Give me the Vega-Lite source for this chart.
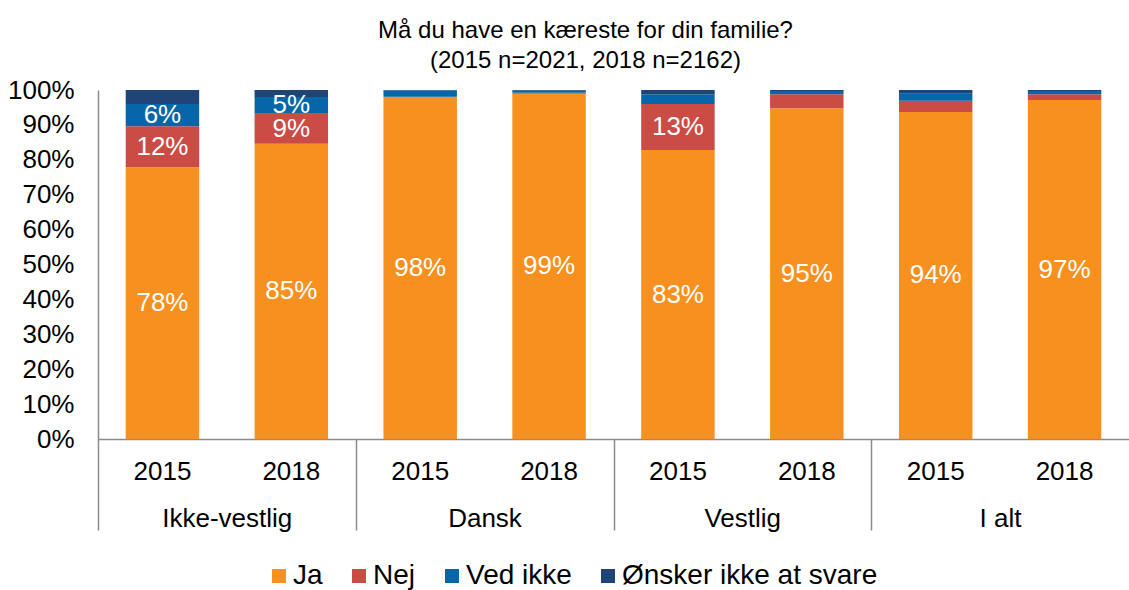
{
  "$schema": "https://vega.github.io/schema/vega-lite/v6.json",
  "width": 1031,
  "height": 349,
  "autosize": {"type": "none"},
  "padding": {"left": 98, "top": 90, "right": 0, "bottom": 151},
  "background": "white",
  "title": {
    "text": ["Må du have en kæreste for din familie?", "(2015 n=2021, 2018 n=2162)"],
    "fontSize": 24,
    "font": "Liberation Sans",
    "fontWeight": "normal",
    "color": "#000000",
    "anchor": "middle",
    "dx": -28,
    "offset": 4,
    "lineHeight": 30
  },
  "config": {
    "font": "Liberation Sans",
    "view": {"stroke": null},
    "axis": {"labelFont": "Liberation Sans", "labelFontSize": 26, "labelColor": "#000000", "grid": false}
  },
  "data": {
    "values": [
      {"group": "Ikke-vestlig", "year": "2015", "answer": "Ja", "value": 0.779},
      {"group": "Ikke-vestlig", "year": "2015", "answer": "Nej", "value": 0.117},
      {"group": "Ikke-vestlig", "year": "2015", "answer": "Ved ikke", "value": 0.064},
      {"group": "Ikke-vestlig", "year": "2015", "answer": "Ønsker ikke at svare", "value": 0.04},
      {"group": "Ikke-vestlig", "year": "2018", "answer": "Ja", "value": 0.846},
      {"group": "Ikke-vestlig", "year": "2018", "answer": "Nej", "value": 0.086},
      {"group": "Ikke-vestlig", "year": "2018", "answer": "Ved ikke", "value": 0.048},
      {"group": "Ikke-vestlig", "year": "2018", "answer": "Ønsker ikke at svare", "value": 0.02},
      {"group": "Dansk", "year": "2015", "answer": "Ja", "value": 0.98},
      {"group": "Dansk", "year": "2015", "answer": "Nej", "value": 0.001},
      {"group": "Dansk", "year": "2015", "answer": "Ved ikke", "value": 0.018},
      {"group": "Dansk", "year": "2015", "answer": "Ønsker ikke at svare", "value": 0.001},
      {"group": "Dansk", "year": "2018", "answer": "Ja", "value": 0.989},
      {"group": "Dansk", "year": "2018", "answer": "Nej", "value": 0.003},
      {"group": "Dansk", "year": "2018", "answer": "Ved ikke", "value": 0.006},
      {"group": "Dansk", "year": "2018", "answer": "Ønsker ikke at svare", "value": 0.002},
      {"group": "Vestlig", "year": "2015", "answer": "Ja", "value": 0.828},
      {"group": "Vestlig", "year": "2015", "answer": "Nej", "value": 0.132},
      {"group": "Vestlig", "year": "2015", "answer": "Ved ikke", "value": 0.028},
      {"group": "Vestlig", "year": "2015", "answer": "Ønsker ikke at svare", "value": 0.012},
      {"group": "Vestlig", "year": "2018", "answer": "Ja", "value": 0.948},
      {"group": "Vestlig", "year": "2018", "answer": "Nej", "value": 0.04},
      {"group": "Vestlig", "year": "2018", "answer": "Ved ikke", "value": 0.009},
      {"group": "Vestlig", "year": "2018", "answer": "Ønsker ikke at svare", "value": 0.003},
      {"group": "I alt", "year": "2015", "answer": "Ja", "value": 0.937},
      {"group": "I alt", "year": "2015", "answer": "Nej", "value": 0.032},
      {"group": "I alt", "year": "2015", "answer": "Ved ikke", "value": 0.02},
      {"group": "I alt", "year": "2015", "answer": "Ønsker ikke at svare", "value": 0.011},
      {"group": "I alt", "year": "2018", "answer": "Ja", "value": 0.971},
      {"group": "I alt", "year": "2018", "answer": "Nej", "value": 0.017},
      {"group": "I alt", "year": "2018", "answer": "Ved ikke", "value": 0.009},
      {"group": "I alt", "year": "2018", "answer": "Ønsker ikke at svare", "value": 0.003}
    ]
  },
  "transform": [{"calculate": "datum.group + ' ' + datum.year", "as": "key"}],
  "layer": [
    {
      "mark": {"type": "bar"},
      "encoding": {
        "x": {
          "field": "key",
          "type": "nominal",
          "scale": {
            "domain": ["Ikke-vestlig 2015", "Ikke-vestlig 2018", "Dansk 2015", "Dansk 2018", "Vestlig 2015", "Vestlig 2018", "I alt 2015", "I alt 2018"],
            "paddingInner": 0.43,
            "paddingOuter": 0.215
          },
          "axis": {
            "orient": "bottom",
            "title": null,
            "labelExpr": "slice(datum.label, -4)",
            "labelAngle": 0,
            "ticks": false,
            "tickSize": 0,
            "domainColor": "#8c8c8c",
            "domainWidth": 1.5,
            "labelPadding": 19
          }
        },
        "y": {
          "field": "value",
          "type": "quantitative",
          "stack": "zero",
          "scale": {"domain": [0, 1], "nice": false, "clamp": true},
          "axis": {
            "orient": "left",
            "title": null,
            "format": ".0%",
            "values": [0, 0.1, 0.2, 0.3, 0.4, 0.5, 0.6, 0.7, 0.8, 0.9, 1],
            "ticks": false,
            "tickSize": 0,
            "domainColor": "#8c8c8c",
            "domainWidth": 1.5,
            "labelPadding": 24
          }
        },
        "color": {
          "field": "answer",
          "type": "nominal",
          "scale": {
            "domain": ["Ja", "Nej", "Ved ikke", "Ønsker ikke at svare"],
            "range": ["#F7901E", "#CB4B45", "#0666A8", "#1F4476"]
          },
          "legend": {
            "title": null,
            "orient": "none",
            "legendX": 167,
            "legendY": 472,
            "direction": "horizontal",
            "symbolType": "square",
            "symbolSize": 196,
            "symbolStrokeWidth": 0,
            "labelFont": "Liberation Sans",
            "labelFontSize": 28,
            "labelColor": "#000000",
            "labelOffset": 0,
            "labelLimit": 0,
            "columnPadding": 22
          }
        },
        "order": {"field": "answer", "sort": "ascending"}
      }
    },
    {
      "transform": [
        {"stack": "value", "groupby": ["key"], "sort": [{"field": "answer", "order": "ascending"}], "as": ["v0", "v1"]},
        {"calculate": "(datum.v0 + datum.v1) / 2", "as": "mid"},
        {"filter": "datum.value >= 0.045"}
      ],
      "mark": {"type": "text", "color": "white", "fontSize": 26, "font": "Liberation Sans", "baseline": "middle", "align": "center"},
      "encoding": {
        "x": {
          "field": "key",
          "type": "nominal",
          "axis": {
            "orient": "bottom",
            "title": null,
            "values": ["Ikke-vestlig 2015", "Dansk 2015", "Vestlig 2015", "I alt 2015"],
            "labelExpr": "slice(datum.label, 0, -5)",
            "labelAngle": 0,
            "domain": false,
            "ticks": true,
            "bandPosition": 0,
            "tickOffset": -27.7,
            "labelOffset": 92,
            "tickSize": 91,
            "tickColor": "#8c8c8c",
            "tickWidth": 1.5,
            "labelPadding": -25
          }
        },
        "y": {
          "field": "mid",
          "type": "quantitative",
          "axis": {
            "orient": "left",
            "title": null,
            "format": ".0%",
            "values": [0, 0.1, 0.2, 0.3, 0.4, 0.5, 0.6, 0.7, 0.8, 0.9, 1],
            "ticks": false,
            "tickSize": 0,
            "domainColor": "#8c8c8c",
            "domainWidth": 1.5,
            "labelPadding": 24
          }
        },
        "text": {"field": "value", "type": "quantitative", "format": ".0%"}
      }
    }
  ],
  "resolve": {"axis": {"x": "independent", "y": "shared"}}
}
